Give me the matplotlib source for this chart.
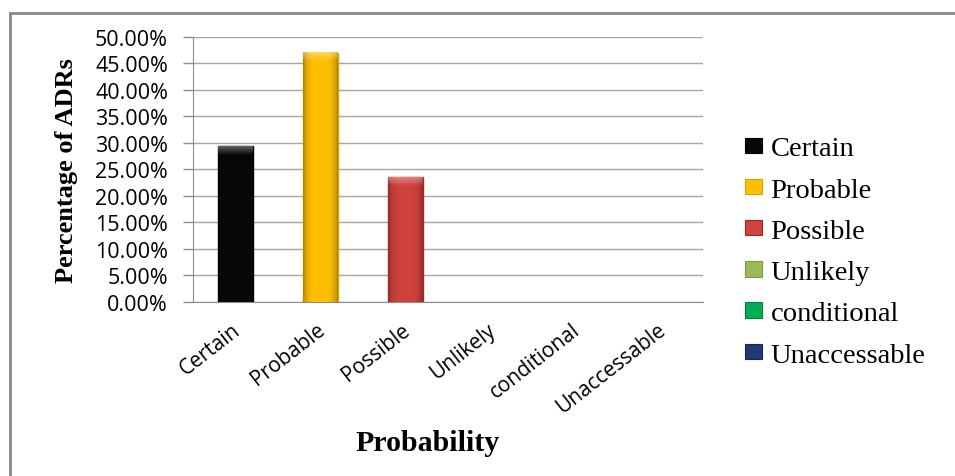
import numpy as np
import matplotlib
matplotlib.use("Agg")
import matplotlib.pyplot as plt
from matplotlib.patches import Patch
from matplotlib.lines import Line2D
from matplotlib.colors import to_rgb
from matplotlib.transforms import ScaledTranslation
from matplotlib.ticker import PercentFormatter, MultipleLocator

# ====== Data ======
categories = ["Certain", "Probable", "Possible", "Unlikely", "conditional", "Unaccessable"]
percentages = [29.41, 47.06, 23.53, 0.0, 0.0, 0.0]

# ====== Style ======
BAR_COLORS = ["#080808", "#FFC000", "#D0423D", "#9BBB59", "#00B050", "#1F3B73"]
EDGE_COLORS = ["#000000", "#D9A000", "#9A2A27", "#7A9A40", "#008040", "#142850"]
GRID_COLOR = "#A6A6A6"
TICK_FONT = "Open Sans"
TITLE_FONT = "Liberation Serif"

fig = plt.figure(figsize=(9.55, 4.77), dpi=100)
ax = fig.add_axes([0.2021, 0.3648, 0.534, 0.5556])

x = list(range(len(categories)))
line_w = [1.0 if v > 0 else 0 for v in percentages]
bars = ax.bar(x, percentages, width=0.41, color=BAR_COLORS, edgecolor=EDGE_COLORS,
              linewidth=line_w, zorder=3)

# bevelled look: darker sides, lighter strip along the top
for rect, c in zip(bars, BAR_COLORS):
    h = rect.get_height()
    if h <= 0:
        continue
    base = np.array(to_rgb(c))
    cols = np.linspace(0, 1, 40)
    side = 1 - 0.3 * (np.abs(cols - 0.5) * 2) ** 4
    rows = np.linspace(h, 0, 200)
    top = np.clip((rows - (h - 1.6)) / 1.6, 0, 1)
    img = base[None, None, :] * side[None, :, None]
    img = img + (1 - img) * 0.35 * top[:, None, None]
    x0 = rect.get_x()
    ax.imshow(img, extent=(x0, x0 + rect.get_width(), 0, h), aspect="auto",
              zorder=3.5, clip_path=rect, interpolation="bilinear")

ax.set_xlim(-0.5, len(categories) - 0.5)
ax.set_ylim(0, 50)
ax.yaxis.set_major_locator(MultipleLocator(5))
ax.yaxis.set_major_formatter(PercentFormatter(decimals=2))
ax.grid(axis="y", color=GRID_COLOR, linewidth=1.0, zorder=0)

for side_name in ("top", "right"):
    ax.spines[side_name].set_visible(False)
for side_name in ("left", "bottom"):
    ax.spines[side_name].set_color("#8C8C8C")

ax.tick_params(axis="y", length=7, width=1, color="#8C8C8C", pad=11,
               labelsize=15.5)
ax.tick_params(axis="x", length=0, pad=12, labelsize=15)
for lbl in ax.get_yticklabels():
    lbl.set_fontfamily(TICK_FONT)

ax.set_xticks(x)
ax.set_xticklabels(categories, rotation=38, ha="right",
                   rotation_mode="anchor", fontfamily=TICK_FONT)
shift = ScaledTranslation(-4 / 100, 0, fig.dpi_scale_trans)
for lbl in ax.get_xticklabels():
    lbl.set_transform(lbl.get_transform() + shift)

ax.set_ylabel("Percentage of ADRs", fontfamily=TITLE_FONT, fontweight="bold",
              fontsize=19)
ax.yaxis.set_label_coords(-0.226, 0.5)
ax.set_xlabel("Probability", fontfamily=TITLE_FONT, fontweight="bold",
              fontsize=21.5)
ax.xaxis.set_label_coords(0.459, -0.48)

# Legend on the right side
handles = [Patch(facecolor=c, edgecolor=e, linewidth=0.8)
           for c, e in zip(BAR_COLORS, EDGE_COLORS)]
leg = fig.legend(handles, categories, loc="upper left",
                 bbox_to_anchor=(0.780, 0.712), frameon=False,
                 prop={"family": TITLE_FONT, "size": 20.5},
                 handlelength=0.6, handleheight=0.45, handletextpad=0.3,
                 labelspacing=0.57, borderaxespad=0, borderpad=0)

# Chart frame (top and left edges)
fig.add_artist(Line2D([0.0105, 1.0], [0.971, 0.971], transform=fig.transFigure,
                      color="#888888", linewidth=2))
fig.add_artist(Line2D([0.0105, 0.0105], [0.0, 0.971], transform=fig.transFigure,
                      color="#888888", linewidth=2))

fig.savefig("out.png", dpi=100)
